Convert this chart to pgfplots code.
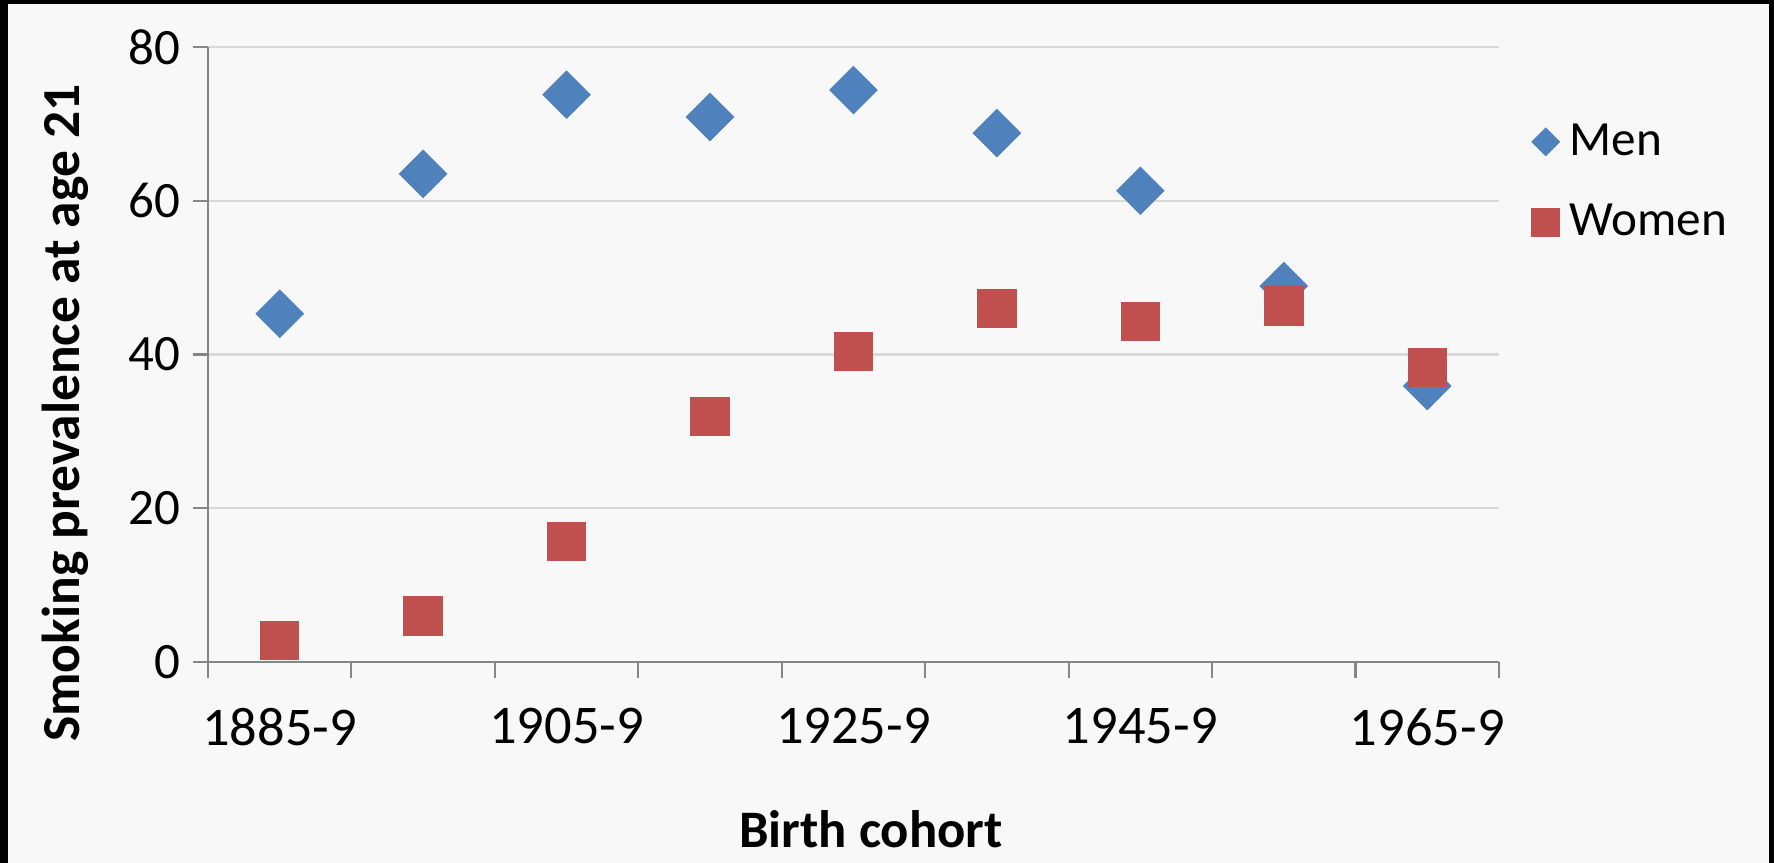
\documentclass[border=0pt]{standalone}
\usepackage{pgfplots}
\pgfplotsset{compat=1.18}
\usepackage{fontspec}
\setmainfont{Carlito}
\definecolor{menblue}{HTML}{4F81BD}
\definecolor{womenred}{HTML}{C0504D}
\definecolor{bgc}{HTML}{F8F8F8}
\definecolor{axgray}{HTML}{868686}
\definecolor{gridgray}{HTML}{D9D9D9}

\begin{document}
\begin{tikzpicture}
% frame and chart area
\fill[black] (-20.8mm,-20.1mm) rectangle (156.6mm,66.2mm);
\fill[bgc] (-20.0mm,-20.1mm) rectangle (156.1mm,65.8mm);
\begin{axis}[
  scale only axis, width=129.1mm, height=61.5mm,
  xmin=0.5, xmax=9.5, ymin=0, ymax=80,
  axis x line=bottom, axis y line=left,
  axis line style={-, axgray, line width=0.6pt},
  ytick={0,20,...,80}, ymajorgrids,
  grid style={gridgray, line width=0.6pt},
  xtick={1,3,5,7,9},
  xticklabels={1885-9,1905-9,1925-9,1945-9,1965-9},
  minor xtick={0.5,1.5,...,9.5},
  tick align=outside, major tick length=1.5mm, minor tick length=1.6mm,
  tick style={axgray, line width=0.6pt},
  major x tick style={draw=none},
  yticklabel style={font=\fontsize{14.5}{17}\selectfont},
  xticklabel style={font=\fontsize{15.5}{18}\selectfont, yshift=-1.9mm},
  /pgf/number format/assume math mode=true,
  xlabel={Birth cohort},
  ylabel={Smoking prevalence at age 21},
  xlabel style={at={(axis description cs:0.5136,-0.2715)}, anchor=center, font=\fontsize{15}{18}\selectfont\bfseries},
  ylabel style={at={(axis description cs:-0.1108,0.405)}, anchor=center, font=\fontsize{15.2}{18}\selectfont\bfseries},
  legend style={at={(rel axis cs:1.025,0.78)}, anchor=west, draw=none, fill=none,
    font=\fontsize{14}{17}\selectfont, row sep=3mm, inner sep=0pt, cells={anchor=west},
    nodes={inner xsep=1.8mm}},
]
\addplot[only marks, menblue, mark=square*, mark size=1.65mm,
  mark options={rotate=45, fill=menblue},
  legend image post style={mark size=0.95mm}]
  coordinates {(1,45.3) (2,63.5) (3,73.8) (4,70.9) (5,74.4) (6,68.8) (7,61.3) (8,48.9) (9,35.9)};
\addlegendentry{\hspace*{-0.8mm}Men}
\addplot[only marks, womenred, mark=square*, mark size=1.9mm,
  mark options={fill=womenred},
  legend image post style={mark size=1.38mm}]
  coordinates {(1,2.8) (2,6.0) (3,15.7) (4,31.9) (5,40.4) (6,46.0) (7,44.3) (8,46.3) (9,38.3)};
\addlegendentry{\hspace*{-0.8mm}Women}
\end{axis}
\end{tikzpicture}
\end{document}
